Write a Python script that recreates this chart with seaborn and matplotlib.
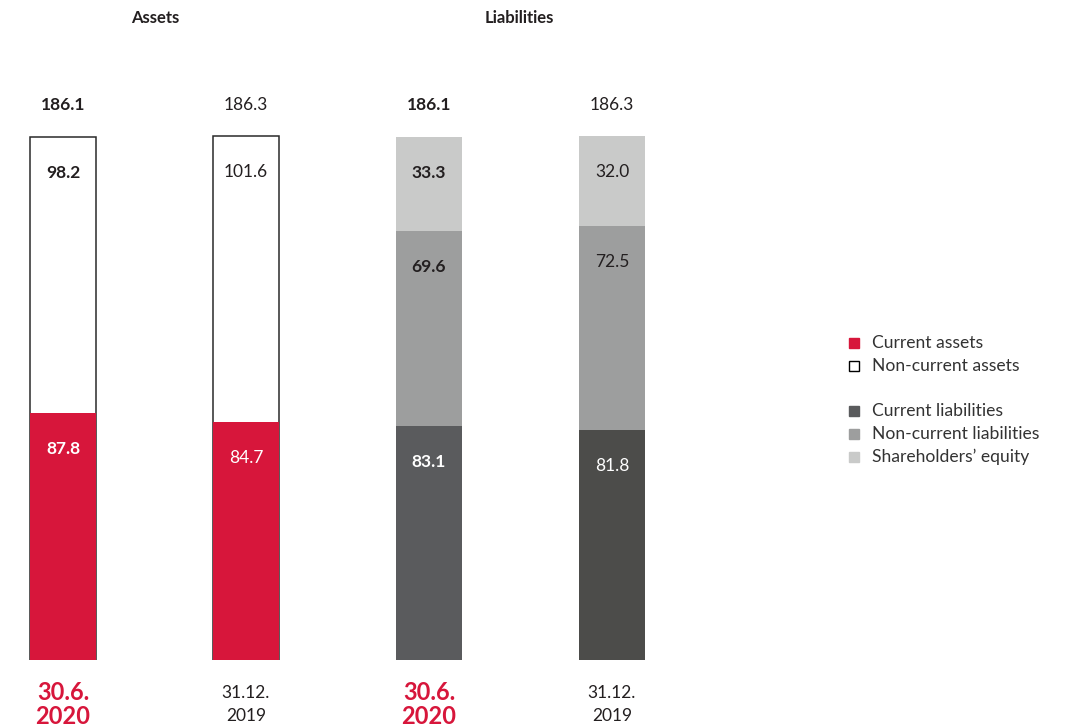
import numpy as np
import pandas as pd
import matplotlib.pyplot as plt
import seaborn as sns
from matplotlib.patches import Rectangle

# ── Data ──────────────────────────────────────────────────────────
bar_ids = ["A2020", "A2019", "L2020", "L2019"]
date_top = ["30.6.", "31.12.", "30.6.", "31.12."]
date_bottom = ["2020", "2019", "2020", "2019"]
is_current = [True, False, True, False]

totals = [186.1, 186.3, 186.1, 186.3]
current_assets = [87.8, 84.7]
noncurrent_assets = [98.2, 101.6]
current_liab = [83.1, 81.8]
noncurrent_liab = [69.6, 72.5]
equity = [33.3, 32.0]

group_titles = ["Assets", "Liabilities"]
legend_labels = ["Current assets", "Non-current assets", None,
                 "Current liabilities", "Non-current liabilities",
                 "Shareholders\u2019 equity"]

RED = "#D7163B"
DARK20 = "#5A5B5D"
DARK19 = "#4C4C4A"
MID = "#9D9E9E"
LIGHT = "#C9CAC9"
TXT = "#231F20"

# ── Figure setup ──────────────────────────────────────────────────
sns.set_style("white")
plt.rcParams["font.family"] = ["Lato", "DejaVu Sans"]

fig = plt.figure(figsize=(10.65, 7.27), dpi=100)
PX = 523 / 186.1  # pixels per unit
ax_bottom_px, ax_top_px = 660, 660 - 200 * PX
ax = fig.add_axes([0, (727 - ax_bottom_px) / 727, 720 / 1065,
                   (ax_bottom_px - ax_top_px) / 727])

W = 0.36

# layer 1: totals (top segment colour)
layer1 = pd.DataFrame({"bar": bar_ids, "h": totals})
pal1 = {"A2020": "white", "A2019": "white", "L2020": LIGHT, "L2019": LIGHT}
sns.barplot(data=layer1, x="bar", y="h", hue="bar", palette=pal1, order=bar_ids,
            width=W, ax=ax, legend=False, saturation=1, linewidth=0)
for p, bid in zip(ax.patches, bar_ids):
    if bid.startswith("A"):
        p.set_edgecolor("#2a2a2a")
        p.set_linewidth(1.1)

# layer 2: current assets / current + non-current liabilities
layer2 = pd.DataFrame({"bar": bar_ids,
                       "h": current_assets + [c + n for c, n in zip(current_liab, noncurrent_liab)]})
pal2 = {"A2020": RED, "A2019": RED, "L2020": MID, "L2019": MID}
sns.barplot(data=layer2, x="bar", y="h", hue="bar", palette=pal2, order=bar_ids,
            width=W, ax=ax, legend=False, saturation=1, linewidth=0)

# layer 3: current liabilities
layer3 = pd.DataFrame({"bar": bar_ids, "h": [0, 0] + current_liab})
pal3 = {"A2020": RED, "A2019": RED, "L2020": DARK20, "L2019": DARK19}
sns.barplot(data=layer3, x="bar", y="h", hue="bar", palette=pal3, order=bar_ids,
            width=W, ax=ax, legend=False, saturation=1, linewidth=0)

ax.set_xlim(-63 / 183, (720 - 63) / 183)
ax.set_ylim(0, 200)
ax.axis("off")

# ── Value labels ──────────────────────────────────────────────────
OFF = 36 / PX
segments = []
for i in range(2):
    segments.append((i, totals[i], noncurrent_assets[i], TXT))
    segments.append((i, current_assets[i], current_assets[i], "white"))
for j in range(2):
    i = j + 2
    segments.append((i, totals[i], equity[j], TXT))
    segments.append((i, current_liab[j] + noncurrent_liab[j], noncurrent_liab[j], TXT))
    segments.append((i, current_liab[j], current_liab[j], "white"))

for i, top, val, col in segments:
    ax.text(i, top - OFF, f"{val:.1f}", ha="center", va="center", color=col,
            fontsize=12.5, fontweight="bold" if is_current[i] else "normal")

for i in range(4):
    ax.text(i, (660 - 105) / PX, f"{totals[i]:.1f}", ha="center", va="center",
            color=TXT, fontsize=12.5, fontweight="bold" if is_current[i] else "normal")
    col = RED if is_current[i] else TXT
    fw = "bold" if is_current[i] else "normal"
    fs = 17 if is_current[i] else 12.5
    ax.text(i, (660 - 693) / PX, date_top[i], ha="center", va="center", color=col,
            fontsize=fs, fontweight=fw, clip_on=False)
    ax.text(i, (660 - 716) / PX, date_bottom[i], ha="center", va="center", color=col,
            fontsize=fs, fontweight=fw, clip_on=False)

# ── Titles ────────────────────────────────────────────────────────
for title, xpx in zip(group_titles, [155, 519]):
    fig.text(xpx / 1065, 1 - 18 / 727, title, ha="center", va="center",
             fontsize=12, fontweight="bold", color=TXT)

# ── Legend ────────────────────────────────────────────────────────
legend_colors = [RED, "white", None, DARK20, MID, LIGHT]
row_y = [343, 366, 388, 411, 434, 457]
for lab, col, ypx in zip(legend_labels, legend_colors, row_y):
    if lab is None:
        continue
    fig.patches.append(Rectangle(((849) / 1065, 1 - (ypx + 5) / 727), 10 / 1065, 10 / 727,
                                 transform=fig.transFigure, facecolor=col,
                                 edgecolor="black" if col == "white" else col,
                                 linewidth=1.0))
    fig.text(872 / 1065, 1 - ypx / 727, lab, ha="left", va="center",
             fontsize=12.6, color="#333333")

fig.savefig("out.png", dpi=100)
